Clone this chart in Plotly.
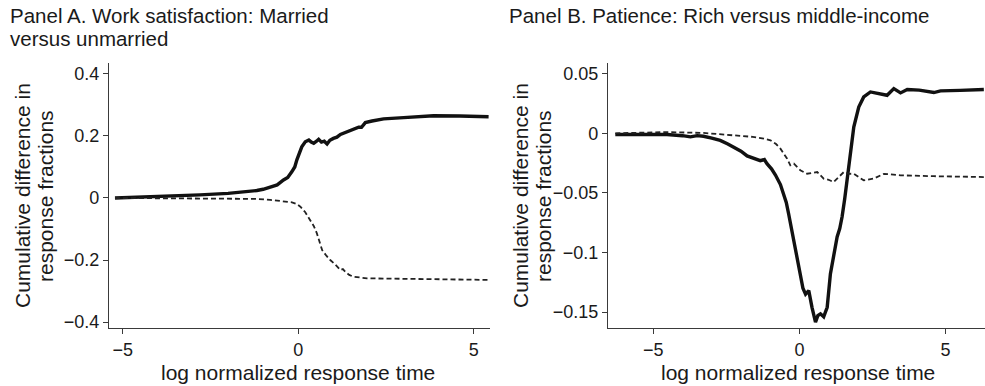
import plotly.graph_objects as go

# ---- Panel A: work satisfaction, married versus unmarried ----
a_solid_x = [-5.22, -4.0, -2.8, -2.0, -1.5, -1.18, -1.0, -0.8, -0.6, -0.42, -0.3, -0.18, -0.1,
             -0.04, 0.03, 0.1, 0.2, 0.3, 0.37, 0.44, 0.52, 0.58, 0.66, 0.74, 0.82, 0.9, 1.0,
             1.1, 1.2, 1.39, 1.55, 1.72, 1.8, 1.91, 2.1, 2.43, 3.0, 3.85, 4.6, 5.42]
a_solid_y = [0.0, 0.004, 0.010, 0.015, 0.019, 0.024, 0.028, 0.036, 0.042, 0.058, 0.066, 0.085,
             0.100, 0.123, 0.148, 0.165, 0.181, 0.187, 0.180, 0.176, 0.183, 0.189, 0.180, 0.183,
             0.174, 0.186, 0.192, 0.196, 0.205, 0.214, 0.221, 0.228, 0.228, 0.243, 0.248, 0.255,
             0.259, 0.265, 0.264, 0.262]

a_dash_x = [-5.22, -3.0, -1.18, -0.8, -0.61, -0.4, -0.18, -0.05, 0.06, 0.2, 0.34, 0.44, 0.53,
            0.6, 0.68, 0.8, 0.91, 1.05, 1.2, 1.27, 1.34, 1.45, 1.58, 1.96, 3.0, 4.2, 5.42]
a_dash_y = [0.0, -0.001, -0.003, -0.006, -0.009, -0.011, -0.014, -0.019, -0.028, -0.046, -0.071,
            -0.090, -0.114, -0.140, -0.168, -0.186, -0.200, -0.214, -0.232, -0.229, -0.238,
            -0.248, -0.254, -0.259, -0.261, -0.263, -0.264]

# ---- Panel B: patience, rich versus middle-income ----
b_solid_x = [-6.3, -4.53, -4.0, -3.73, -3.5, -3.28, -3.0, -2.71, -2.45, -2.25, -2.0, -1.79,
             -1.55, -1.34, -1.2, -1.11, -0.95, -0.82, -0.65, -0.54, -0.45, -0.37, -0.25, -0.14,
             -0.05, 0.03, 0.12, 0.21, 0.32, 0.43, 0.55, 0.63, 0.72, 0.83, 0.95, 1.06, 1.18,
             1.29, 1.38, 1.46, 1.55, 1.63, 1.75, 1.86, 2.03, 2.2, 2.43, 2.66, 3.0, 3.23, 3.46,
             3.69, 4.1, 4.6, 4.83, 5.5, 6.31]
b_solid_y = [-0.001, -0.001, -0.002, -0.003, -0.002, -0.0025, -0.004, -0.006, -0.009, -0.0115,
             -0.015, -0.019, -0.021, -0.023, -0.022, -0.0255, -0.030, -0.035, -0.043, -0.0507,
             -0.058, -0.0675, -0.083, -0.098, -0.110, -0.121, -0.130, -0.135, -0.132, -0.146,
             -0.1585, -0.153, -0.1515, -0.154, -0.146, -0.118, -0.100, -0.087, -0.080, -0.070,
             -0.055, -0.0395, -0.015, 0.0053, 0.022, 0.0305, 0.0347, 0.0333, 0.0319, 0.0375,
             0.0339, 0.0367, 0.0362, 0.0342, 0.0356, 0.0360, 0.0367]

b_dash_x = [-6.3, -4.53, -3.28, -2.25, -1.6, -1.22, -0.99, -0.8, -0.65, -0.42, -0.31, -0.19,
            -0.05, 0.03, 0.26, 0.45, 0.61, 0.83, 1.0, 1.17, 1.29, 1.52, 1.7, 1.86, 2.2, 2.54,
            2.89, 3.46, 4.6, 6.31]
b_dash_y = [0.0, 0.001, 0.0003, -0.0017, -0.003, -0.0045, -0.0059, -0.009, -0.0129, -0.0213,
            -0.0269, -0.0255, -0.029, -0.031, -0.0339, -0.033, -0.0325, -0.0381, -0.039,
            -0.0409, -0.038, -0.0325, -0.034, -0.0339, -0.0395, -0.038, -0.034, -0.0353,
            -0.036, -0.0367]

# ---- tick labels ----
a_x_ticks = [-5, 0, 5]
a_y_ticks = [-0.4, -0.2, 0, 0.2, 0.4]
a_y_text = ["\u22120.4", "\u22120.2", "0", "0.2", "0.4"]
b_x_ticks = [-5, 0, 5]
b_y_ticks = [-0.15, -0.1, -0.05, 0, 0.05]
b_y_text = ["\u22120.15", "\u22120.1", "\u22120.05", "0", "0.05"]
x_tick_text = ["\u22125", "0", "5"]

# panel titles as (text, left px, centre-y px) lines
title_lines = [("Panel A. Work satisfaction: Married", 8, 15),
               ("versus unmarried", 8, 38),
               ("Panel B. Patience: Rich versus middle-income", 507, 15)]
y_title_lines = ["Cumulative difference in", "response fractions"]
x_title = "log normalized response time"

W, H = 985, 386
FONT = "Liberation Sans, Arial, sans-serif"
INK = "#1a1a1a"
AXIS = "#3a3a3a"

fig = go.Figure()
solid = dict(color="#111111", width=3.4)
dashed = dict(color="#222222", width=1.8, dash="5px,3px")
fig.add_trace(go.Scatter(x=a_solid_x, y=a_solid_y, mode="lines", line=solid, xaxis="x", yaxis="y"))
fig.add_trace(go.Scatter(x=a_dash_x, y=a_dash_y, mode="lines", line=dashed, xaxis="x", yaxis="y"))
fig.add_trace(go.Scatter(x=b_solid_x, y=b_solid_y, mode="lines", line=solid, xaxis="x2", yaxis="y2"))
fig.add_trace(go.Scatter(x=b_dash_x, y=b_dash_y, mode="lines", line=dashed, xaxis="x2", yaxis="y2"))

# plot-area placement (pixels)
a_left, a_right = 109, 490
b_left, b_right = 608, 985
top, bottom = 63, 328
ydom = [1 - bottom / H, 1 - top / H]

axis_common = dict(showgrid=False, zeroline=False, showline=True, linecolor=AXIS, linewidth=1.3,
                   ticks="outside", ticklen=5, tickwidth=1.2, tickcolor=AXIS, automargin=False,
                   tickfont=dict(family=FONT, size=18, color=INK))

fig.update_layout(
    width=W, height=H, margin=dict(l=0, r=0, t=0, b=0),
    paper_bgcolor="white", plot_bgcolor="white", showlegend=False,
    xaxis=dict(domain=[a_left / W, a_right / W], range=[-5.39, 5.46], tickvals=a_x_ticks,
               ticktext=x_tick_text, anchor="y", **axis_common),
    yaxis=dict(domain=ydom, range=[-0.419, 0.435], tickvals=a_y_ticks, ticktext=a_y_text,
               anchor="x", **axis_common),
    xaxis2=dict(domain=[b_left / W, b_right / W], range=[-6.55, 6.35], tickvals=b_x_ticks,
                ticktext=x_tick_text, anchor="y2", **axis_common),
    yaxis2=dict(domain=ydom, range=[-0.1634, 0.059], tickvals=b_y_ticks, ticktext=b_y_text,
                anchor="x2", **axis_common),
)

title_font = dict(family=FONT, size=20.5, color=INK)
label_font = dict(family=FONT, size=21, color=INK)
annotations = []
# panel titles
for text, x0, cy in title_lines:
    annotations.append(dict(text=text, x=x0 / W, y=1 - cy / H, xref="paper", yref="paper",
                            xanchor="left", yanchor="middle", align="left", showarrow=False,
                            font=title_font))
# y-axis titles (two stacked lines, rotated)
for base in [0, 498]:
    for line, dx in zip(y_title_lines, [22, 45]):
        annotations.append(dict(text=line, x=(base + dx) / W, y=1 - 196 / H, xref="paper",
                                yref="paper", xanchor="center", yanchor="middle",
                                textangle=-90, showarrow=False, font=label_font))
# x-axis titles
for cx in [298, 798]:
    annotations.append(dict(text=x_title, x=cx / W, y=1 - 372 / H, xref="paper", yref="paper",
                            xanchor="center", yanchor="middle", showarrow=False, font=label_font))
fig.update_layout(annotations=annotations)

fig.write_html("out.html")
